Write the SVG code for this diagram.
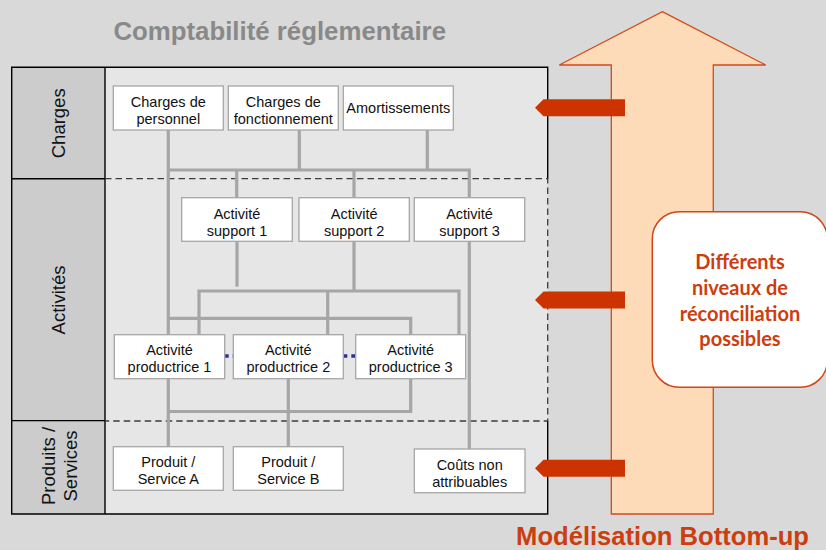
<svg xmlns="http://www.w3.org/2000/svg" width="826" height="550" viewBox="0 0 826 550">
  <style>
    .box { fill: #ffffff; stroke: #a6a6a6; stroke-width: 1.3; }
    .lbl { font-family: "Liberation Sans", Arial, sans-serif; font-size: 14.5px; fill: #111111; text-anchor: middle; }
    .band { font-family: "Liberation Sans", Arial, sans-serif; font-size: 18.5px; fill: #111111; text-anchor: middle; }
    .link { fill: none; stroke: #a6a6a6; stroke-width: 3.2; stroke-linejoin: miter; }
    .dash { fill: none; stroke: #3c3c3c; stroke-width: 1.3; stroke-dasharray: 6.5 4; }
    .edge { fill: none; stroke: #000000; stroke-width: 1.4; }
    .navy { fill: none; stroke: #2e3192; stroke-width: 3.5; stroke-dasharray: 4 4; }
    .tab { fill: #cc3300; }
    .note { font-family: Lato, "Open Sans", sans-serif; font-weight: bold; font-size: 20px; fill: #cc3d0f; text-anchor: middle; }
  </style>

  <!-- page -->
  <rect x="0" y="0" width="826" height="550" fill="#d9d9d9"/>

  <text x="279.7" y="40" font-family="Liberation Sans, Arial, sans-serif" font-weight="bold" font-size="25.8" fill="#898989" text-anchor="middle">Comptabilité réglementaire</text>

  <!-- frame: band column and working area -->
  <g id="frame">
    <rect x="105" y="67.3" width="442.7" height="446.7" fill="#e6e6e6"/>
    <rect x="11.7" y="67.3" width="93.3" height="446.7" fill="#cccccc"/>
    <path class="edge" d="M547.7 178.7 V67.3 H11.7 V514 H547.7 V421"/>
    <path class="edge" d="M105 67.3 V514 M11.7 178.7 H105 M11.7 420.6 H105"/>
    <path class="dash" d="M105 178.7 H547.7 V421 H105"/>
  </g>

  <!-- band titles -->
  <g id="band-charges">
    <text class="band" transform="translate(64.7 123.3) rotate(-90)">Charges</text>
  </g>
  <g id="band-activites">
    <text class="band" transform="translate(64.7 300) rotate(-90)">Activités</text>
  </g>
  <g id="band-produits">
    <text class="band" transform="translate(55 466) rotate(-90)">Produits /</text>
    <text class="band" transform="translate(76.7 466) rotate(-90)">Services</text>
  </g>

  <!-- allocation links -->
  <g id="connectors">
    <path class="link" d="M168.3 130 V446.7"/>
    <path class="link" d="M299.3 130 V170"/>
    <path class="link" d="M427.3 130 V170"/>
    <path class="link" d="M168.3 170 H469.3 V449"/>
    <path class="link" d="M236.7 170 V197.7"/>
    <path class="link" d="M354 170 V197.7"/>
    <path class="link" d="M237 241.3 V286.7"/>
    <path class="link" d="M354 241.3 V291"/>
    <path class="link" d="M199 334.7 V291 H459 V334.7"/>
    <path class="link" d="M327.7 291 V334.7"/>
    <path class="link" d="M168.3 318.3 H410.7 V334.7"/>
    <path class="link" d="M410.7 378.7 V411.5 H168.3"/>
    <path class="link" d="M288.3 378.7 V446.7"/>
    <path class="navy" d="M224.7 356 H233.3"/>
    <path class="navy" d="M343.3 356 H355.7"/>
  </g>

  <!-- charges -->
  <g id="charges-personnel">
    <rect class="box" x="113.3" y="86" width="110" height="44"/>
    <text class="lbl" x="168.3" y="106.7">Charges de</text>
    <text class="lbl" x="168.3" y="123.7">personnel</text>
  </g>
  <g id="charges-fonctionnement">
    <rect class="box" x="228.3" y="86" width="110" height="44"/>
    <text class="lbl" x="283.3" y="106.7">Charges de</text>
    <text class="lbl" x="283.3" y="123.7">fonctionnement</text>
  </g>
  <g id="amortissements">
    <rect class="box" x="343.3" y="86" width="110" height="44"/>
    <text class="lbl" x="398.3" y="113.3">Amortissements</text>
  </g>

  <!-- support activities -->
  <g id="support-1">
    <rect class="box" x="181.7" y="197.7" width="110.6" height="43.6"/>
    <text class="lbl" x="237" y="219">Activité</text>
    <text class="lbl" x="237" y="236.3">support 1</text>
  </g>
  <g id="support-2">
    <rect class="box" x="299" y="197.7" width="110.3" height="43.6"/>
    <text class="lbl" x="354.2" y="219">Activité</text>
    <text class="lbl" x="354.2" y="236.3">support 2</text>
  </g>
  <g id="support-3">
    <rect class="box" x="414.3" y="197.7" width="110.4" height="43.6"/>
    <text class="lbl" x="469.5" y="219">Activité</text>
    <text class="lbl" x="469.5" y="236.3">support 3</text>
  </g>

  <!-- productive activities -->
  <g id="productrice-1">
    <rect class="box" x="114.3" y="334.7" width="110.4" height="44"/>
    <text class="lbl" x="169.5" y="354.5">Activité</text>
    <text class="lbl" x="169.5" y="371.5">productrice 1</text>
  </g>
  <g id="productrice-2">
    <rect class="box" x="233.3" y="334.7" width="110" height="44"/>
    <text class="lbl" x="288.3" y="354.5">Activité</text>
    <text class="lbl" x="288.3" y="371.5">productrice 2</text>
  </g>
  <g id="productrice-3">
    <rect class="box" x="355.7" y="334.7" width="110" height="44"/>
    <text class="lbl" x="410.7" y="354.5">Activité</text>
    <text class="lbl" x="410.7" y="371.5">productrice 3</text>
  </g>

  <!-- products / services -->
  <g id="produit-a">
    <rect class="box" x="113.3" y="446.7" width="110" height="43.6"/>
    <text class="lbl" x="168.3" y="467.4">Produit /</text>
    <text class="lbl" x="168.3" y="484.4">Service A</text>
  </g>
  <g id="produit-b">
    <rect class="box" x="233.3" y="446.7" width="110" height="43.6"/>
    <text class="lbl" x="288.3" y="467.4">Produit /</text>
    <text class="lbl" x="288.3" y="484.4">Service B</text>
  </g>
  <g id="couts-non-attribuables">
    <rect class="box" x="414.3" y="449" width="110.7" height="43.7"/>
    <text class="lbl" x="469.7" y="470">Coûts non</text>
    <text class="lbl" x="469.7" y="487.3">attribuables</text>
  </g>

  <!-- bottom-up arrow -->
  <g id="bottom-up">
    <polygon points="662.3,11.7 765.7,65 713.3,65 713.3,514 611.3,514 611.3,65 559.3,65" fill="#fddbb9" stroke="#d24a1a" stroke-width="1.3"/>
    <text x="662.5" y="545" font-family="Liberation Sans, Arial, sans-serif" font-weight="bold" font-size="25.6" fill="#cc3d0f" text-anchor="middle">Modélisation Bottom-up</text>
  </g>

  <!-- reconciliation note -->
  <g id="reconciliation">
    <rect x="652.3" y="211.7" width="175" height="175.6" rx="27" ry="27" fill="#ffffff" stroke="#d0461a" stroke-width="1.5"/>
    <text class="note" x="740" y="269">Différents</text>
    <text class="note" x="740" y="295">niveaux de</text>
    <text class="note" x="740" y="320.5">réconciliation</text>
    <text class="note" x="740" y="346">possibles</text>
  </g>

  <!-- reconciliation level pointers -->
  <g id="level-charges">
    <polygon class="tab" points="535,107.7 543.5,99.2 625,99.2 625,116.2 543.5,116.2"/>
  </g>
  <g id="level-activites">
    <polygon class="tab" points="535,300 543.5,291.5 625,291.5 625,308.5 543.5,308.5"/>
  </g>
  <g id="level-produits">
    <polygon class="tab" points="535,468.3 543.5,459.8 625,459.8 625,476.8 543.5,476.8"/>
  </g>
</svg>
